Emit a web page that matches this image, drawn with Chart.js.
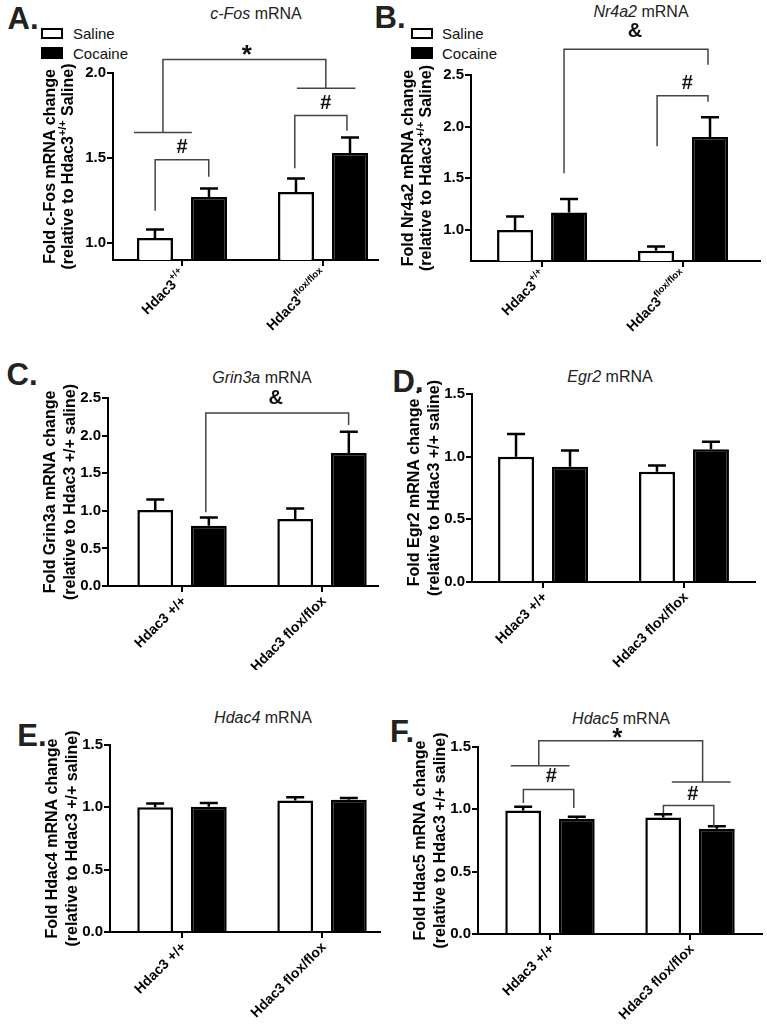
<!DOCTYPE html>
<html>
<head>
<meta charset="utf-8">
<script src="https://cdn.jsdelivr.net/npm/chart.js@4.4.1/dist/chart.umd.min.js"></script>
<style>
  body { margin: 0; background: #fff; }
  #fig { position: relative; width: 767px; height: 1030px; overflow: hidden; font-family: "Liberation Sans", Arial, sans-serif; }
  #fig canvas { position: absolute; }
  .title { position: absolute; transform: translate(-50%, -50%); font-size: 16px; color: #222; white-space: nowrap; }
  .letter { position: absolute; transform: translate(-50%, -50%); font-size: 31px; font-weight: bold; color: #222; }
  .legend { position: absolute; transform: translateY(-50%); font-size: 15px; color: #111; }
  .swatch { position: absolute; box-sizing: border-box; border: 2.5px solid #000; width: 22px; height: 11px; }
</style>
</head>
<body>
<div id="fig">
  <div class="letter" style="left:23px;top:19px">A.</div>
  <div class="letter" style="left:390px;top:18px">B.</div>
  <div class="letter" style="left:22px;top:375px">C.</div>
  <div class="letter" style="left:408px;top:382px">D.</div>
  <div class="letter" style="left:32px;top:736px">E.</div>
  <div class="letter" style="left:402px;top:732px">F.</div>

  <div class="title" style="left:256px;top:14px"><i>c-Fos</i> mRNA</div>
  <div class="title" style="left:641px;top:12px"><i>Nr4a2</i> mRNA</div>
  <div class="title" style="left:262px;top:378px"><i>Grin3a</i> mRNA</div>
  <div class="title" style="left:610px;top:377px"><i>Egr2</i> mRNA</div>
  <div class="title" style="left:263px;top:718px"><i>Hdac4</i> mRNA</div>
  <div class="title" style="left:621px;top:719px"><i>Hdac5</i> mRNA</div>

  <div class="swatch" style="left:41px;top:28px;background:#fff"></div>
  <div class="legend" style="left:73px;top:33px">Saline</div>
  <div class="swatch" style="left:41px;top:47px;height:12px;background:#000"></div>
  <div class="legend" style="left:73px;top:53px">Cocaine</div>
  <div class="swatch" style="left:411px;top:28px;background:#fff"></div>
  <div class="legend" style="left:442px;top:33px">Saline</div>
  <div class="swatch" style="left:411px;top:47px;height:12px;background:#000"></div>
  <div class="legend" style="left:442px;top:53px">Cocaine</div>
</div>
<script>
// genotype labels: A/B use superscripts, C-F plain text
const supLabels = [[['Hdac3', 0], ['+/+', 1]], [['Hdac3', 0], ['flox/flox', 1]]];
const plainLabels = [[['Hdac3 +/+', 0]], [['Hdac3 flox/flox', 0]]];

const fosSaline = [1.03, 1.30];
const fosSalineErr = [0.05, 0.08];
const fosCocaine = [1.27, 1.53];
const fosCocaineErr = [0.05, 0.09];
const fosTicks = [1.0, 1.5, 2.0];

const nr4a2Saline = [1.00, 0.80];
const nr4a2SalineErr = [0.13, 0.04];
const nr4a2Cocaine = [1.17, 1.90];
const nr4a2CocaineErr = [0.13, 0.19];
const nr4a2Ticks = [1.0, 1.5, 2.0, 2.5];

const grin3aSaline = [1.01, 0.89];
const grin3aSalineErr = [0.14, 0.14];
const grin3aCocaine = [0.80, 1.77];
const grin3aCocaineErr = [0.11, 0.28];
const grin3aTicks = [0, 0.5, 1.0, 1.5, 2.0, 2.5];

const egr2Saline = [1.00, 0.88];
const egr2SalineErr = [0.18, 0.05];
const egr2Cocaine = [0.92, 1.06];
const egr2CocaineErr = [0.13, 0.06];

const hdac4Saline = [1.00, 1.055];
const hdac4SalineErr = [0.03, 0.025];
const hdac4Cocaine = [1.005, 1.06];
const hdac4CocaineErr = [0.03, 0.015];

const hdac5Saline = [0.99, 0.935];
const hdac5SalineErr = [0.03, 0.025];
const hdac5Cocaine = [0.925, 0.845];
const hdac5CocaineErr = [0.015, 0.02];

const smallTicks = [0, 0.5, 1.0, 1.5];

// significance brackets, in (group index, fold change) units
const fosBrackets = [
  [[-0.19, 1.19], [-0.19, 1.49], [0.19, 1.49], [0.19, 1.39]],
  [[-0.34, 1.65], [0.07, 1.65]],
  [[-0.135, 1.65], [-0.135, 2.08], [1.02, 2.08], [1.02, 1.91]],
  [[0.815, 1.91], [1.23, 1.91]],
  [[0.80, 1.44], [0.80, 1.75], [1.17, 1.75], [1.17, 1.66]]
];
const fosMarks = [[0, 1.56, '#'], [1.02, 1.82, '#'], [0.46, 2.135, '*']];

const nr4a2Brackets = [
  [[0.156, 1.55], [0.156, 2.75], [1.177, 2.75], [1.177, 2.60]],
  [[0.816, 1.81], [0.816, 2.30], [1.177, 2.30], [1.177, 2.24]]
];
const nr4a2Marks = [[0.66, 2.92, '&'], [1.03, 2.42, '#']];

const grin3aBrackets = [
  [[0.17, 0.98], [0.17, 2.30], [1.19, 2.30], [1.19, 2.14]]
];
const grin3aMarks = [[0.67, 2.50, '&']];

const hdac5Brackets = [
  [[-0.08, 1.35], [-0.08, 1.55], [1.09, 1.55], [1.09, 1.22]],
  [[-0.28, 1.35], [0.14, 1.35]],
  [[0.87, 1.22], [1.29, 1.22]],
  [[-0.19, 1.05], [-0.19, 1.16], [0.17, 1.16], [0.17, 1.01]],
  [[0.81, 0.97], [0.81, 1.03], [1.17, 1.03], [1.17, 0.86]]
];
const hdac5Marks = [[0.01, 1.26, '#'], [1.02, 1.12, '#'], [0.48, 1.61, '*']];

const relSup = [['(relative to Hdac3', 0], ['+/+', 1], [' Saline)', 0]];
const relPlain = [['(relative to Hdac3 +/+ saline)', 0]];

const panels = [
  { box: {x: 0, y: 0, w: 385, h: 335}, area: {l: 113, t: 73, r: 378, b: 260},
    xRange: [-0.489, 1.39], yRange: [0.9, 2.0], ticks: fosTicks,
    saline: fosSaline, salineErr: fosSalineErr, cocaine: fosCocaine, cocaineErr: fosCocaineErr,
    labels: supLabels, yTitle: [[['Fold c-Fos mRNA change', 0]], relSup], yTitleX: [-62, -44],
    brackets: fosBrackets, marks: fosMarks },
  { box: {x: 380, y: 0, w: 387, h: 335}, area: {l: 471, t: 75, r: 760, b: 261},
    xRange: [-0.504, 1.546], yRange: [0.7, 2.5], ticks: nr4a2Ticks,
    saline: nr4a2Saline, salineErr: nr4a2SalineErr, cocaine: nr4a2Cocaine, cocaineErr: nr4a2CocaineErr,
    labels: supLabels, yTitle: [[['Fold Nr4a2 mRNA change', 0]], relSup], yTitleX: [-62, -44],
    brackets: nr4a2Brackets, marks: nr4a2Marks },
  { box: {x: 0, y: 335, w: 385, h: 335}, area: {l: 108, t: 398, r: 378, b: 586},
    xRange: [-0.529, 1.4], yRange: [0, 2.5], ticks: grin3aTicks,
    saline: grin3aSaline, salineErr: grin3aSalineErr, cocaine: grin3aCocaine, cocaineErr: grin3aCocaineErr,
    labels: plainLabels, yTitle: [[['Fold Grin3a mRNA change', 0]], relPlain], yTitleX: [-57, -37],
    brackets: grin3aBrackets, marks: grin3aMarks },
  { box: {x: 380, y: 335, w: 387, h: 335}, area: {l: 472, t: 394, r: 755, b: 582},
    xRange: [-0.504, 1.504], yRange: [0, 1.5], ticks: smallTicks,
    saline: egr2Saline, salineErr: egr2SalineErr, cocaine: egr2Cocaine, cocaineErr: egr2CocaineErr,
    labels: plainLabels, yTitle: [[['Fold Egr2 mRNA change .', 0]], relPlain], yTitleX: [-57, -37],
    brackets: [], marks: [] },
  { box: {x: 0, y: 670, w: 385, h: 360}, area: {l: 110, t: 745, r: 380, b: 932},
    xRange: [-0.514, 1.414], yRange: [0, 1.5], ticks: smallTicks,
    saline: hdac4Saline, salineErr: hdac4SalineErr, cocaine: hdac4Cocaine, cocaineErr: hdac4CocaineErr,
    labels: plainLabels, yTitle: [[['Fold Hdac4 mRNA change', 0]], relPlain], yTitleX: [-57, -37],
    brackets: [], marks: [] },
  { box: {x: 380, y: 670, w: 387, h: 360}, area: {l: 478, t: 747, r: 762, b: 934},
    xRange: [-0.514, 1.514], yRange: [0, 1.5], ticks: smallTicks,
    saline: hdac5Saline, salineErr: hdac5SalineErr, cocaine: hdac5Cocaine, cocaineErr: hdac5CocaineErr,
    labels: plainLabels, yTitle: [[['Fold Hdac5 mRNA change', 0]], relPlain], yTitleX: [-57, -37],
    brackets: hdac5Brackets, marks: hdac5Marks }
];

const FONT = '"Liberation Sans", Arial, sans-serif';
Chart.defaults.font.family = FONT;

// draws text runs (normal + superscript) starting from the current origin
function drawRuns(ctx, runs, size, align) {
  const font = sup => 'bold ' + (sup ? size * 0.68 : size) + 'px ' + FONT;
  const widths = runs.map(([t, sup]) => { ctx.font = font(sup); return ctx.measureText(t).width; });
  const total = widths.reduce((a, b) => a + b, 0);
  let x = align === 'right' ? -total : -total / 2;
  ctx.textAlign = 'left';
  ctx.textBaseline = 'middle';
  runs.forEach(([t, sup], i) => {
    ctx.font = font(sup);
    ctx.fillText(t, x, sup ? -size * 0.4 : 0);
    x += widths[i];
  });
}

function extras(p) {
  return {
    id: 'extras',
    afterDatasetsDraw(chart) {
      const ctx = chart.ctx, ys = chart.scales.y;
      [[p.saline, p.salineErr], [p.cocaine, p.cocaineErr]].forEach(([vals, errs], d) => {
        chart.getDatasetMeta(d).data.forEach((bar, i) => {
          const top = ys.getPixelForValue(vals[i] + errs[i]);
          ctx.save();
          ctx.strokeStyle = '#000';
          ctx.lineWidth = 2.5;
          ctx.beginPath();
          ctx.moveTo(bar.x, bar.y);
          ctx.lineTo(bar.x, top);
          ctx.moveTo(bar.x - 9, top);
          ctx.lineTo(bar.x + 9, top);
          ctx.stroke();
          ctx.restore();
        });
      });
    },
    afterDraw(chart) {
      const ctx = chart.ctx, xs = chart.scales.x, ys = chart.scales.y, area = chart.chartArea;
      ctx.save();
      ctx.strokeStyle = '#444';
      ctx.lineWidth = 1.5;
      p.brackets.forEach(line => {
        ctx.beginPath();
        line.forEach(([x, y], k) => {
          const px = xs.getPixelForValue(x), py = ys.getPixelForValue(y);
          if (k) ctx.lineTo(px, py); else ctx.moveTo(px, py);
        });
        ctx.stroke();
      });
      ctx.fillStyle = '#111';
      ctx.textAlign = 'center';
      ctx.textBaseline = 'middle';
      p.marks.forEach(([x, y, t]) => {
        const size = t === '*' ? 26 : 20;
        ctx.font = 'bold ' + size + 'px ' + FONT;
        ctx.fillText(t, xs.getPixelForValue(x), ys.getPixelForValue(y) + (t === '*' ? size * 0.22 : 0));
      });

      ctx.fillStyle = '#000';
      const cy = (area.top + area.bottom) / 2;
      p.yTitle.forEach((runs, k) => {
        ctx.save();
        ctx.translate(area.left + p.yTitleX[k], cy);
        ctx.rotate(-Math.PI / 2);
        drawRuns(ctx, runs, 16, 'center');
        ctx.restore();
      });
      p.labels.forEach((runs, i) => {
        ctx.save();
        ctx.translate(xs.getPixelForValue(i) + 2, area.bottom + 13);
        ctx.rotate(-Math.PI / 4);
        drawRuns(ctx, runs, 14, 'right');
        ctx.restore();
      });
      ctx.restore();
    }
  };
}

const fig = document.getElementById('fig');
const yW = 40, xH = 6;

panels.forEach(p => {
  const cv = document.createElement('canvas');
  cv.width = p.box.w;
  cv.height = p.box.h;
  cv.style.left = p.box.x + 'px';
  cv.style.top = p.box.y + 'px';
  fig.appendChild(cv);

  const pts = vals => vals.map((v, i) => ({x: i, y: v}));
  const axisGrid = {drawOnChartArea: false, color: '#000', lineWidth: 2, tickLength: 6, offset: false};
  const axisBorder = {color: '#000', width: 2};

  new Chart(cv, {
    type: 'bar',
    data: {
      datasets: [
        {label: 'Saline', data: pts(p.saline), backgroundColor: '#fff', borderColor: '#000',
         borderWidth: 2.5, categoryPercentage: 0.766, barPercentage: 0.667},
        {label: 'Cocaine', data: pts(p.cocaine), backgroundColor: '#000', borderColor: '#000',
         borderWidth: 2.5, categoryPercentage: 0.766, barPercentage: 0.667}
      ]
    },
    options: {
      responsive: false,
      animation: false,
      devicePixelRatio: 1,
      layout: {
        padding: {
          left: p.area.l - p.box.x - yW,
          top: p.area.t - p.box.y,
          right: p.box.x + p.box.w - p.area.r,
          bottom: p.box.y + p.box.h - p.area.b - xH
        }
      },
      plugins: {legend: {display: false}, tooltip: {enabled: false}},
      scales: {
        x: {
          type: 'linear', min: p.xRange[0], max: p.xRange[1], bounds: 'data', offset: false, z: 1,
          afterBuildTicks: s => { s.ticks = p.labels.map((l, i) => ({value: i})); },
          afterFit: s => { s.height = xH; },
          ticks: {display: false},
          grid: axisGrid, border: axisBorder
        },
        y: {
          min: p.yRange[0], max: p.yRange[1], bounds: 'data', z: 1,
          afterBuildTicks: s => { s.ticks = p.ticks.map(v => ({value: v})); },
          afterFit: s => { s.width = yW; },
          ticks: {color: '#000', font: {size: 15, weight: 'bold'}, padding: 1, callback: v => v.toFixed(1)},
          grid: axisGrid, border: axisBorder
        }
      }
    },
    plugins: [extras(p)]
  });
});
</script>
</body>
</html>
